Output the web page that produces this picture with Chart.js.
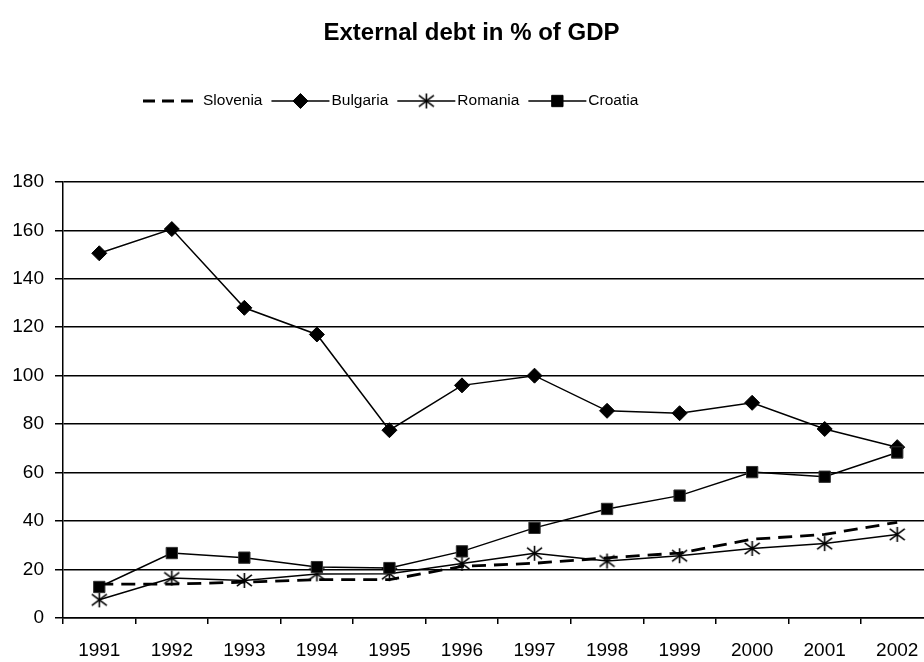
<!DOCTYPE html>
<html>
<head>
<meta charset="utf-8">
<title>External debt in % of GDP</title>
<script src="https://cdn.jsdelivr.net/npm/chart.js@4/dist/chart.umd.min.js"></script>
<style>
  html, body { margin: 0; padding: 0; background: #fff; overflow: hidden; }
  #debtChart { display: block; }
</style>
</head>
<body>
<canvas id="debtChart" width="943" height="662"></canvas>
<script>
// External debt as share of GDP, 1991-2002
const years = ['1991', '1992', '1993', '1994', '1995', '1996', '1997', '1998', '1999', '2000', '2001', '2002'];
const slovenia = [14, 14, 14.8, 15.8, 15.8, 21.3, 22.6, 24.8, 26.8, 32.5, 34.5, 39.5];
const bulgaria = [150.5, 160.5, 128, 117, 77.5, 96, 100, 85.5, 84.5, 88.8, 78, 70.5];
const romania  = [7.5, 16.5, 15.5, 18.2, 18.3, 22.5, 26.7, 23.5, 25.7, 28.7, 30.7, 34.5];
const croatia  = [12.8, 26.8, 24.9, 21, 20.6, 27.5, 37.2, 45, 50.5, 60.2, 58.3, 68.3];
const yTicks   = [0, 20, 40, 60, 80, 100, 120, 140, 160, 180];

const FONT = '"Liberation Sans", Arial, sans-serif';

// six-armed asterisk marker for the Romania series
function asteriskMarker(size, lw) {
    const c = document.createElement('canvas');
    c.width = c.height = size;
    const g = c.getContext('2d');
    g.strokeStyle = '#000';
    g.lineWidth = lw;
    const m = size / 2, r = size / 2 - 1;
    g.beginPath();
    g.moveTo(m, m - r); g.lineTo(m, m + r);
    g.moveTo(m - r, m - r * 0.75); g.lineTo(m + r, m + r * 0.75);
    g.moveTo(m - r, m + r * 0.75); g.lineTo(m + r, m - r * 0.75);
    g.stroke();
    return c;
}
const star = asteriskMarker(17, 1.6);

// legend with line samples and markers, laid out left to right
const lineLegend = {
    id: 'lineLegend',
    afterDraw(chart) {
        const ctx = chart.ctx;
        const y = 101;
        let x = 143;
        ctx.save();
        ctx.font = '15.5px ' + FONT;
        ctx.textBaseline = 'middle';
        ctx.textAlign = 'left';
        chart.data.datasets.forEach(ds => {
            ctx.strokeStyle = '#000';
            ctx.fillStyle = '#000';
            ctx.lineWidth = ds.borderWidth;
            // dashed sample: three short dashes, stopping on a gap
            ctx.setLineDash(ds.borderDash ? [12, 7] : []);
            ctx.beginPath();
            ctx.moveTo(x, y);
            ctx.lineTo(x + (ds.borderDash ? 50 : 58), y);
            ctx.stroke();
            ctx.setLineDash([]);
            if (ds.pointRadius > 0) {
                ctx.lineWidth = 1;
                Chart.helpers.drawPoint(ctx, {
                    pointStyle: ds.pointStyle,
                    radius: ds.pointRadius,
                    borderWidth: 1,
                    rotation: 0
                }, x + 29, y);
            }
            x += 60;
            ctx.fillStyle = '#000';
            ctx.fillText(ds.label, x, y);
            x += ctx.measureText(ds.label).width + 9;
        });
        ctx.restore();
    }
};

new Chart(document.getElementById('debtChart'), {
    type: 'line',
    data: {
        labels: years,
        datasets: [
            {
                label: 'Slovenia', data: slovenia, order: 1,
                borderColor: '#000', borderWidth: 2.8, borderDash: [14, 8],
                pointRadius: 0, pointHoverRadius: 0, tension: 0
            },
            {
                label: 'Bulgaria', data: bulgaria, order: 4,
                borderColor: '#000', borderWidth: 1.5,
                pointStyle: 'rectRot', pointRadius: 7.5, pointBorderWidth: 1,
                pointBackgroundColor: '#000', pointBorderColor: '#000', tension: 0
            },
            {
                label: 'Romania', data: romania, order: 3,
                borderColor: '#000', borderWidth: 1.5,
                pointStyle: star, pointRadius: 8,
                pointBackgroundColor: '#000', pointBorderColor: '#000', tension: 0
            },
            {
                label: 'Croatia', data: croatia, order: 2,
                borderColor: '#000', borderWidth: 1.5,
                pointStyle: 'rect', pointRadius: 8, pointBorderWidth: 1,
                pointBackgroundColor: '#000', pointBorderColor: '#333', tension: 0
            }
        ]
    },
    options: {
        responsive: false,
        animation: false,
        events: [],
        devicePixelRatio: 1,
        layout: { padding: 0 },
        plugins: {
            legend: { display: false },
            tooltip: { enabled: false },
            title: {
                display: true,
                text: 'External debt in % of GDP',
                color: '#000',
                font: { family: FONT, size: 24, weight: 'bold', lineHeight: 1.2 },
                padding: { top: 19, bottom: 134 }
            }
        },
        scales: {
            x: {
                offset: true,
                grid: { drawOnChartArea: false, drawTicks: true, tickLength: 6, color: '#000', lineWidth: 1.5, offset: true },
                border: { display: true, color: '#000', width: 1.5 },
                ticks: { color: '#000', font: { family: FONT, size: 19 }, padding: 15, maxRotation: 0, autoSkip: false },
                afterFit(scale) { scale.height = 44; }
            },
            y: {
                min: 0, max: 180,
                afterBuildTicks(scale) { scale.ticks = yTicks.map(v => ({ value: v })); },
                grid: { color: '#000', lineWidth: 1.5, drawTicks: true, tickLength: 8 },
                border: { display: true, color: '#000', width: 1.5 },
                ticks: { color: '#000', font: { family: FONT, size: 19 }, padding: 11 },
                afterFit(scale) { scale.width = 63; }
            }
        }
    },
    plugins: [lineLegend]
});
</script>
</body>
</html>
